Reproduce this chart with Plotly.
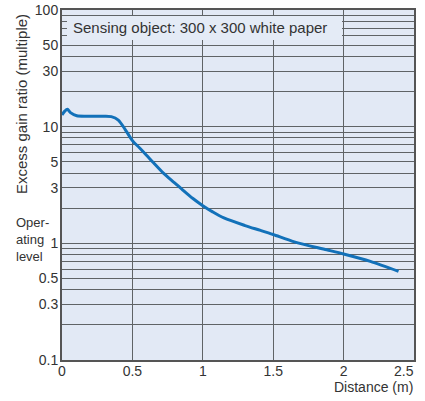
import plotly.graph_objects as go

# Data
distance_m = [0.0, 0.02, 0.038, 0.06, 0.105, 0.2, 0.3, 0.35, 0.40, 0.45, 0.50, 0.55, 0.60, 0.65,
              0.72, 0.80, 0.86, 0.93, 1.0, 1.07, 1.15, 1.3, 1.41, 1.5, 1.65, 1.88, 2.0, 2.19, 2.39]
excess_gain = [12.6, 13.6, 14.1, 13.2, 12.4, 12.3, 12.3, 12.2, 11.4, 9.4, 7.6, 6.6, 5.7, 4.9,
               4.0, 3.3, 2.85, 2.42, 2.1, 1.86, 1.65, 1.42, 1.29, 1.19, 1.03, 0.88, 0.81, 0.70, 0.575]

y_tick_vals = [0.1, 0.3, 0.5, 1, 3, 5, 10, 30, 50, 100]
y_tick_text = ["0.1", "0.3", "0.5", "1", "3", "5", "10", "30", "50", "100"]
y_minor_vals = [0.2, 0.4, 0.6, 0.7, 0.8, 0.9, 2, 4, 6, 7, 8, 9, 20, 40, 60, 70, 80, 90]
x_tick_vals = [0, 0.5, 1, 1.5, 2, 2.5]
x_tick_text = ["0", "0.5", "1", "1.5", "2", ""]
x_last_label = "2.5"

W, H = 425, 401
ML, MR, MT, MB = 62, 11, 10, 41
PW, PH = W - ML - MR, H - MT - MB

grid = "#5f6366"
font_fam = "Liberation Sans, Arial, sans-serif"

fig = go.Figure()
fig.add_trace(go.Scatter(
    x=distance_m, y=excess_gain, mode="lines",
    line=dict(color="#1271b9", width=3, shape="spline", smoothing=0.8),
    hoverinfo="skip", showlegend=False,
))

fig.update_layout(
    width=W, height=H,
    margin=dict(l=ML, r=MR, t=MT, b=MB, autoexpand=False),
    paper_bgcolor="white",
    plot_bgcolor="#e2e9f5",
    font=dict(family=font_fam, size=14, color="#333333"),
    xaxis=dict(
        range=[0, 2.5], tickvals=x_tick_vals, ticktext=x_tick_text,
        showgrid=True, gridcolor=grid, gridwidth=1,
        showline=True, linecolor="#555555", linewidth=2, mirror=True,
        ticks="", zeroline=False, tickfont=dict(size=14, color="#333333"),
        ticklabelstandoff=-3, automargin=False,
    ),
    yaxis=dict(
        type="log", range=[-1, 2], tickvals=y_tick_vals, ticktext=y_tick_text,
        showgrid=True, gridcolor=grid, gridwidth=1,
        minor=dict(tickvals=y_minor_vals, showgrid=True, gridcolor=grid, gridwidth=1, ticks=""),
        showline=True, linecolor="#555555", linewidth=2, mirror=True,
        ticks="", zeroline=False, tickfont=dict(size=14, color="#333333"),
        ticklabelstandoff=-1, automargin=False,
    ),
)

def px_x(px):
    return (px - ML) / PW

def px_y(py):
    return (H - MB - py) / PH

fig.add_shape(type="rect", xref="paper", yref="paper",
              x0=px_x(67), x1=px_x(342), y0=px_y(40), y1=px_y(16),
              fillcolor="#e4ebf6", line=dict(width=0), layer="above")

annotations = [
    dict(text="Excess gain ratio (multiple)", textangle=-90, xref="paper", yref="paper",
         x=px_x(21), y=px_y(104), xanchor="center", yanchor="middle", showarrow=False,
         font=dict(size=15, color="#333333")),
    dict(text="Oper-<br>ating<br>level", xref="paper", yref="paper",
         x=px_x(14), y=px_y(239), xanchor="left", yanchor="middle", align="left",
         showarrow=False, font=dict(size=13, color="#333333")),
    dict(text="Distance (m)", xref="paper", yref="paper",
         x=px_x(415), y=px_y(387), xanchor="right", yanchor="middle",
         showarrow=False, font=dict(size=14, color="#333333")),
    dict(text=x_last_label, xref="x", yref="paper",
         x=2.5, xshift=-10, y=px_y(371), xanchor="center", yanchor="middle",
         showarrow=False, font=dict(size=14, color="#333333")),
    dict(text="Sensing object: 300 x 300 white paper", xref="paper", yref="paper",
         x=px_x(71), y=px_y(28), xanchor="left", yanchor="middle", align="left",
         showarrow=False, font=dict(size=15, color="#333333")),
]
fig.update_layout(annotations=annotations)

fig.write_html("out.html", config={"displayModeBar": False},
               post_script="document.body.style.margin='0';document.body.style.padding='0';")
